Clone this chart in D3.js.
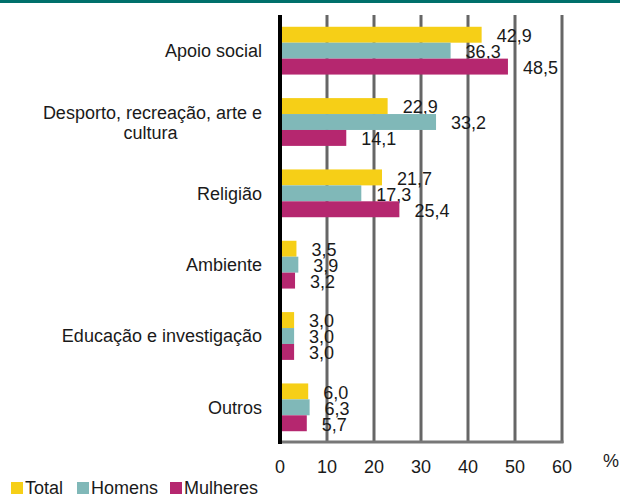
<!DOCTYPE html>
<html>
<head>
<meta charset="utf-8">
<script src="https://cdn.jsdelivr.net/npm/d3@7"></script>
<style>
  body { margin: 0; background: #fff; }
  text { font-family: "Liberation Sans", Arial, sans-serif; fill: #1a1a1a; }
</style>
</head>
<body>
<script>
// dados
var categorias = ["Apoio social", "Desporto, recreação, arte e cultura", "Religião",
  "Ambiente", "Educação e investigação", "Outros"];
var series = ["Total", "Homens", "Mulheres"];
var total = [42.9, 22.9, 21.7, 3.5, 3.0, 6.0];
var homens = [36.3, 33.2, 17.3, 3.9, 3.0, 6.3];
var mulheres = [48.5, 14.1, 25.4, 3.2, 3.0, 5.7];
var ticks = [0, 10, 20, 30, 40, 50, 60];
var cores = ["#F6CF17", "#80B8B8", "#B5276F"];

var valores = [total, homens, mulheres];
var W = 620, H = 495;

var svg = d3.select("body").append("svg")
  .attr("width", W)
  .attr("height", H);

// barra do topo
svg.append("rect")
  .attr("x", 0).attr("y", 0)
  .attr("width", W).attr("height", 3)
  .attr("fill", "#00706B");

var x = d3.scaleLinear().domain([0, 60]).range([280, 562]);
var y = d3.scaleBand().domain(categorias).range([15, 443])
  .paddingInner(0.33).paddingOuter(0.165);
var ySub = d3.scaleBand().domain(series).range([0, y.bandwidth()]);

// grelha vertical
svg.selectAll(".grid").data(ticks.slice(1)).enter().append("line")
  .attr("x1", function(d) { return x(d); })
  .attr("x2", function(d) { return x(d); })
  .attr("y1", 15).attr("y2", 443)
  .attr("stroke", "#666").attr("stroke-width", 3);

// eixo horizontal
svg.append("line")
  .attr("x1", x(0)).attr("x2", x(60) + 1.5)
  .attr("y1", 442).attr("y2", 442)
  .attr("stroke", "#777").attr("stroke-width", 3);

// barras
series.forEach(function(s, j) {
  var g = svg.append("g");
  g.selectAll("rect").data(valores[j]).enter().append("rect")
    .attr("x", x(0))
    .attr("y", function(d, i) { return y(categorias[i]) + ySub(s); })
    .attr("width", function(d) { return x(d) - x(0); })
    .attr("height", ySub.bandwidth())
    .attr("fill", cores[j]);
  g.selectAll("text").data(valores[j]).enter().append("text")
    .attr("x", function(d) { return x(d) + 15; })
    .attr("y", function(d, i) { return y(categorias[i]) + ySub(s) + ySub.bandwidth() / 2 + 1; })
    .attr("dy", "0.35em")
    .style("font-size", "18px")
    .text(function(d) { return d3.format(".1f")(d).replace(".", ","); });
});

// eixo vertical
svg.append("line")
  .attr("x1", x(0)).attr("x2", x(0))
  .attr("y1", 15).attr("y2", 444)
  .attr("stroke", "#000").attr("stroke-width", 4);

// rótulos das categorias
categorias.forEach(function(c) {
  var cy = y(c) + y.bandwidth() / 2;
  if (c.indexOf("Desporto") === 0) {
    svg.append("text").attr("x", 262).attr("y", cy - 9).attr("dy", "0.35em")
      .attr("text-anchor", "end").style("font-size", "18px")
      .text("Desporto, recreação, arte e");
    svg.append("text").attr("x", 150.5).attr("y", cy + 11).attr("dy", "0.35em")
      .attr("text-anchor", "middle").style("font-size", "18px")
      .text("cultura");
  } else {
    svg.append("text").attr("x", 262).attr("y", cy).attr("dy", "0.35em")
      .attr("text-anchor", "end").style("font-size", "18px")
      .text(c);
  }
});

// etiquetas do eixo x
svg.selectAll(".tick").data(ticks).enter().append("text")
  .attr("x", function(d) { return x(d); })
  .attr("y", 473)
  .attr("text-anchor", "middle")
  .style("font-size", "18px")
  .text(function(d) { return d; });
svg.append("text").attr("x", 603).attr("y", 467)
  .style("font-size", "18px").text("%");

// legenda
var legX = [11, 77, 170];
series.forEach(function(s, j) {
  svg.append("rect").attr("x", legX[j]).attr("y", 482)
    .attr("width", 12).attr("height", 12).attr("fill", cores[j]);
  svg.append("text").attr("x", legX[j] + 14).attr("y", 494)
    .style("font-size", "18px").text(s);
});
</script>
</body>
</html>
